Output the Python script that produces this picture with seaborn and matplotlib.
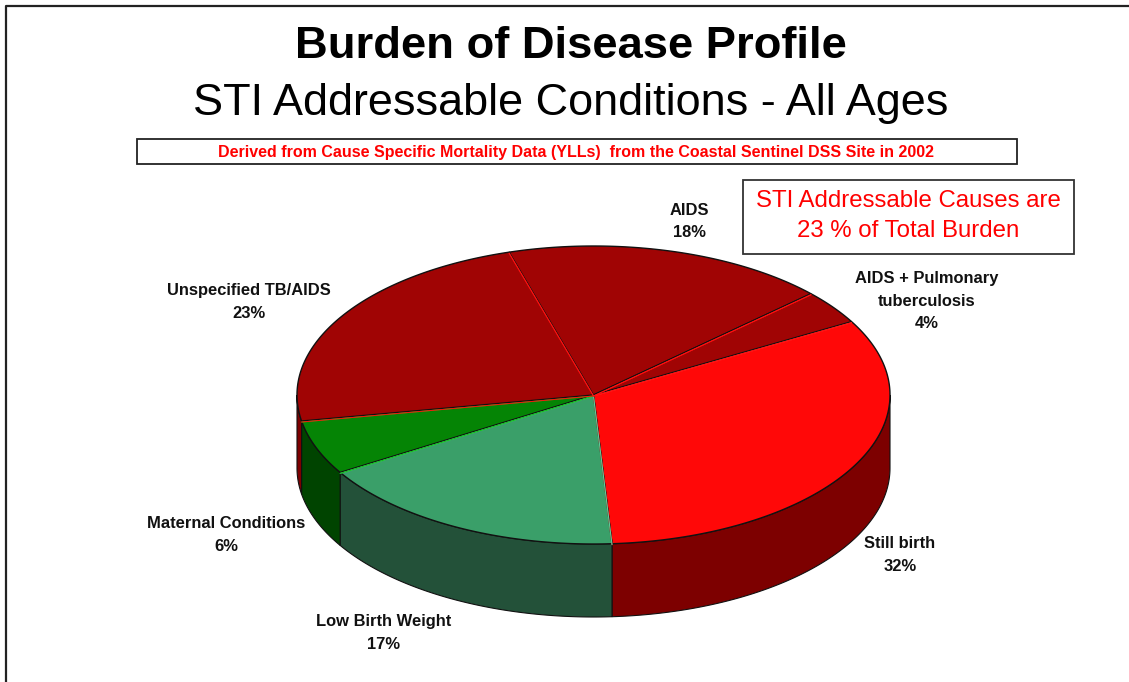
import numpy as np
import matplotlib
matplotlib.use("Agg")
import matplotlib.pyplot as plt
from matplotlib.patches import Rectangle, Polygon
import seaborn as sns

categories = ["Still birth", "Low Birth Weight", "Maternal Conditions",
              "Unspecified TB/AIDS", "AIDS", "AIDS + Pulmonary\ntuberculosis"]
values = [32.2, 17.3, 5.9, 23.2, 17.7, 3.7]
title_main = "Burden of Disease Profile"
title_sub = "STI Addressable Conditions - All Ages"
subtitle = "Derived from Cause Specific Mortality Data (YLLs)  from the Coastal Sentinel DSS Site in 2002"
callout = "STI Addressable Causes are\n23 % of Total Burden"

top_colors = ["#ff0808", "#3a9f69", "#058405", "#a00404", "#a00404", "#a00404"]
side_colors = ["#7d0000", "#235139", "#004400", "#7d0000", "#7d0000", "#7d0000"]
rim_colors = ["#ff3030", "#50d8a0", "#10c010", "#ff1010", "#ff1010", "#ff1010"]
label_pos = [(900, 555), (383.5, 633), (226, 535), (248.5, 302), (689.5, 221.5), (927, 301)]

sns.set_theme(style="white")
plt.rcParams["font.family"] = ["Liberation Sans", "DejaVu Sans"]

W, H = 1129, 682
fig = plt.figure(figsize=(W / 100, H / 100), dpi=100, facecolor="white")
ax = fig.add_axes([0, 0, 1, 1])
ax.set_xlim(0, W)
ax.set_ylim(H, 0)
ax.axis("off")

# outer frame
ax.plot([6, 6, W + 5], [H + 5, 6, 6], color="#222222", lw=1.6, zorder=1)

cx, cy, rx, ry, depth = 593.5, 395, 296.5, 149, 73
start = 29.5


def arc(a0, a1, dy=0):
    t = np.radians(np.linspace(a0, a1, max(int(abs(a1 - a0) * 2), 2)))
    return np.column_stack([cx + rx * np.cos(t), cy - ry * np.sin(t) + dy])


sweeps = np.array(values) / sum(values) * 360
ends = start - np.cumsum(sweeps)
starts = ends + sweeps

# side walls: only the front half of the rim (angles -180..0)
for a0, a1, side in zip(starts, ends, side_colors):
    for shift in (0, -360):
        hi, lo = min(a0 + shift, 0), max(a1 + shift, -180)
        if hi > lo:
            pts = np.vstack([arc(hi, lo), arc(lo, hi, depth)])
            ax.add_patch(Polygon(pts, closed=True, facecolor=side, edgecolor="#111111",
                                 lw=0.8, zorder=2))

# top faces
for a0, a1, top, rim in zip(starts, ends, top_colors, rim_colors):
    pts = np.vstack([[cx, cy], arc(a0, a1)])
    ax.add_patch(Polygon(pts, closed=True, facecolor=top, edgecolor="#111111", lw=1.0, zorder=3))
    ax.plot(pts[[1, 0, -1], 0], pts[[1, 0, -1], 1] + 1, color=rim, lw=0.7, zorder=4)

# slice labels
for name, val, (x, y) in zip(categories, values, label_pos):
    ax.text(x, y, f"{name}\n{val:.0f}%", ha="center", va="center", fontsize=11.9,
            fontweight="bold", color="#111111", linespacing=1.6, zorder=5)

ax.text(570.5, 46, title_main, ha="center", va="center", fontsize=32.7, fontweight="bold", color="black")
ax.text(570.5, 103, title_sub, ha="center", va="center", fontsize=32.4, color="black")

ax.add_patch(Rectangle((137, 139), 880, 25, facecolor="white", edgecolor="#222222", lw=1.3, zorder=5))
ax.text(575.5, 153, subtitle, ha="center", va="center", fontsize=11.55, fontweight="bold",
        color="#ff0000", zorder=6)

ax.add_patch(Rectangle((743, 180), 331, 74, facecolor="white", edgecolor="#333333", lw=1.3, zorder=5))
ax.text(908, 216, callout, ha="center", va="center", fontsize=17.3, color="#ff0000",
        linespacing=1.5, zorder=6)

fig.savefig("out.png", dpi=100, facecolor="white")
